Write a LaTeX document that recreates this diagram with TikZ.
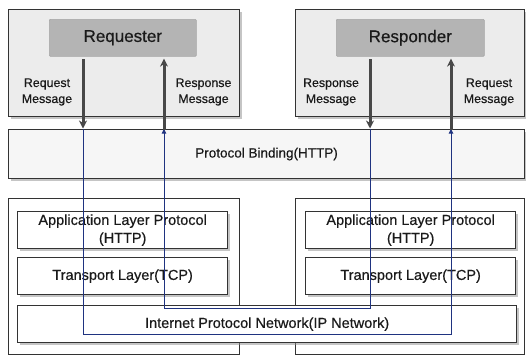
\documentclass[tikz,border=0pt]{standalone}
\usepackage{fontspec}
\setmainfont{Liberation Sans}[FakeBold=0.5]
\usetikzlibrary{arrows.meta,shadows,positioning}
\definecolor{outerfill}{HTML}{ECECEC}
\definecolor{pbfill}{HTML}{F6F6F6}
\definecolor{actfill}{HTML}{B4B4B4}
\definecolor{edgegray}{HTML}{333333}
\definecolor{arrowgray}{HTML}{484848}
\definecolor{navy}{HTML}{1F3380}
\definecolor{txt}{HTML}{1A1A1A}
\definecolor{shadowgray}{HTML}{8C8C8C}
\tikzset{
  sh/.style={drop shadow={shadow xshift=2.5pt,shadow yshift=-2.5pt,fill=shadowgray}},
  outerbox/.style={draw=edgegray,line width=1.1pt,fill=outerfill,sh},
  whiteouter/.style={draw=edgegray,line width=1.1pt,fill=white},
  pbbox/.style={draw=edgegray,line width=1.1pt,fill=pbfill,sh},
  actor/.style={draw=black!35,line width=0.6pt,fill=actfill,rounded corners=1pt,
     text=txt,font=\fontsize{17}{20}\selectfont},
  layer/.style={draw=edgegray,line width=1.3pt,fill=white,sh,text=txt,
     font=\fontsize{14.5}{18}\selectfont,align=center},
  lbl/.style={text=txt,font=\fontsize{12.4}{16}\selectfont,align=center},
  garrow/.style={draw=arrowgray,line width=3pt,-{Stealth[length=8pt,width=8pt,inset=2.5pt]}},
  barrow/.style={draw=navy,line width=0.9pt,-{Triangle[length=4.5pt,width=4.5pt]}},
}
\begin{document}
\begin{tikzpicture}[x=1pt,y=-1pt]
\useasboundingbox (0,0) rectangle (526,357);
% outer boxes
\node[outerbox,minimum width=231pt,minimum height=107pt,inner sep=0pt,anchor=north west] (tl) at (8,9) {};
\node[outerbox,minimum width=229pt,minimum height=107pt,inner sep=0pt,anchor=north west] (tr) at (295,9) {};
\node[whiteouter,minimum width=231pt,minimum height=156pt,inner sep=0pt,anchor=north west] (bl) at (8,198) {};
\node[whiteouter,minimum width=229pt,minimum height=156pt,inner sep=0pt,anchor=north west] (br) at (295,198) {};
\node[pbbox,minimum width=516pt,minimum height=49pt,inner sep=0pt,anchor=north west,
  text=txt,font=\fontsize{13.5}{16}\selectfont] (pb) at (8,129) {Protocol Binding(HTTP)};
% actors
\node[actor,minimum width=147pt,minimum height=37pt,inner sep=0pt,anchor=north west] (req) at (49,19) {Requester};
\node[actor,minimum width=148pt,minimum height=37pt,inner sep=0pt,anchor=north west] (res) at (336,19) {Responder};
% layers
\node[layer,minimum width=210pt,minimum height=37pt,inner sep=0pt,anchor=north west] (appl) at (17,211) {Application Layer Protocol\\(HTTP)};
\node[layer,minimum width=210pt,minimum height=37pt,inner sep=0pt,anchor=north west] (tcpl) at (17,257) {Transport Layer(TCP)};
\node[layer,minimum width=210pt,minimum height=37pt,inner sep=0pt,anchor=north west] (appr) at (305,211) {Application Layer Protocol\\(HTTP)};
\node[layer,minimum width=210pt,minimum height=37pt,inner sep=0pt,anchor=north west] (tcpr) at (305,257) {Transport Layer(TCP)};
\node[layer,minimum width=499pt,minimum height=37pt,inner sep=0pt,anchor=north west] (ip) at (17,305) {Internet Protocol Network(IP Network)};
% labels
\node[lbl] (l1) at (47,92) {Request\\Message};
\node[lbl] (l2) at (203.5,92) {Response\\Message};
\node[lbl] (l3) at (331,92) {Response\\Message};
\node[lbl] (l4) at (489,92) {Request\\Message};
% x positions
\coordinate (xa) at (83,0);
\coordinate (xb) at (164,0);
\coordinate (xc) at (370,0);
\coordinate (xd) at (451,0);
\coordinate (ya) at (0,334);
\coordinate (yb) at (0,308);
% blue paths
\draw[barrow] (pb.north -| xa) -- (xa |- ya) -- (xd |- ya) -- (pb.north -| xd);
\draw[barrow] (pb.north -| xc) -- (xc |- yb) -- (xb |- yb) -- (pb.north -| xb);
% gray arrows
\draw[garrow] ([yshift=-2.5pt]req.south -| xa) -- ([yshift=0.5pt]pb.north -| xa);
\draw[garrow] ([yshift=-0.5pt]pb.north -| xb) -- ([yshift=-2pt]req.south -| xb);
\draw[garrow] ([yshift=-2.5pt]res.south -| xc) -- ([yshift=0.5pt]pb.north -| xc);
\draw[garrow] ([yshift=-0.5pt]pb.north -| xd) -- ([yshift=-2pt]res.south -| xd);
\end{tikzpicture}
\end{document}
